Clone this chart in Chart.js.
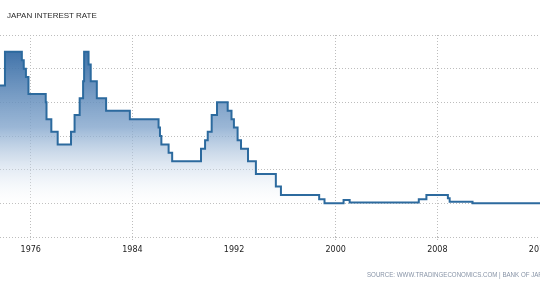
<!DOCTYPE html>
<html>
<head>
<meta charset="utf-8">
<script src="https://cdn.jsdelivr.net/npm/chart.js@4/dist/chart.umd.min.js"></script>
<style>
    html, body { margin: 0; padding: 0; background: #fff; }
    #wrap { position: relative; width: 540px; height: 287px; overflow: hidden; }
    #rate-chart { position: absolute; left: 0; top: 0; }
    .chart-title {
        position: absolute; left: 7px; top: 12px;
        font: 8px/8px "Liberation Sans", Arial, sans-serif;
        color: #2a2a2a; white-space: nowrap;
    }
    .chart-source {
        position: absolute; left: 367px; top: 271px;
        font: 7px/7px "Liberation Sans", Arial, sans-serif;
        color: #8793a6; white-space: nowrap;
        transform: scaleX(0.88); transform-origin: 0 0;
    }
</style>
</head>
<body>
<div id="wrap">
    <canvas id="rate-chart" width="540" height="287"></canvas>
    <div class="chart-title">JAPAN INTEREST RATE</div>
    <div class="chart-source">SOURCE: WWW.TRADINGECONOMICS.COM | BANK OF JAPAN</div>
</div>
<script>
// Даты изменения ставки (доли года) и новое значение ставки, %
const changeYears = [1973.45, 1973.97, 1975.30, 1975.45, 1975.62, 1975.82,
    1977.18, 1977.24, 1977.62, 1978.12, 1979.17, 1979.45, 1979.85, 1980.12,
    1980.20, 1980.55, 1980.72, 1981.20, 1981.93, 1983.80, 1986.06, 1986.17,
    1986.28, 1986.85, 1987.13, 1989.40, 1989.72, 1989.93, 1990.24, 1990.66,
    1991.50, 1991.80, 1991.99, 1992.28, 1992.55, 1993.10, 1993.72, 1995.29,
    1995.69, 1998.70, 1999.12, 2000.62, 2001.10, 2006.54, 2007.14, 2008.83,
    2008.97, 2010.77, 2016.10];
const rates = [7.0, 9.0, 8.5, 8.0, 7.5, 6.5,
    6.0, 5.0, 4.25, 3.5, 4.25, 5.25, 6.25, 7.25,
    9.0, 8.25, 7.25, 6.25, 5.5, 5.0, 4.5, 4.0,
    3.5, 3.0, 2.5, 3.25, 3.75, 4.25, 5.25, 6.0,
    5.5, 5.0, 4.5, 3.75, 3.25, 2.5, 1.75, 1.0,
    0.5, 0.25, 0.0, 0.2, 0.05, 0.25, 0.5, 0.3,
    0.1, 0.0, 0.0];

// Подписи оси X и границы видимого периода
const tickYears = [1976, 1984, 1992, 2000, 2008, 2016];
const hiddenGridYears = [1992, 2016];
const xMin = 1973.58;
const xMax = 2016.08;

const points = changeYears.map((year, i) => ({ x: year, y: rates[i] }));

const gridColor = '#bdbdbd';

function gridFor(c) {
    return (c.tick && hiddenGridYears.includes(c.tick.value)) ? 'rgba(0,0,0,0)' : gridColor;
}

// Градиент заливки под линией
function areaFill(context) {
    const chart = context.chart;
    if (!chart.chartArea) return 'rgba(60, 115, 170, 0.5)';
    const y = chart.scales.y;
    const g = chart.ctx.createLinearGradient(0, y.getPixelForValue(9), 0, y.getPixelForValue(0));
    g.addColorStop(0, 'rgba(55, 108, 165, 0.95)');
    g.addColorStop(0.5, 'rgba(130, 165, 204, 0.8)');
    g.addColorStop(1, 'rgba(255, 255, 255, 0.2)');
    return g;
}

const ctx = document.getElementById('rate-chart').getContext('2d');
window.rateChart = new Chart(ctx, {
    type: 'line',
    data: {
        datasets: [{
            label: 'Japan Interest Rate',
            data: points,
            borderColor: '#2c6a9e',
            borderWidth: 2,
            backgroundColor: areaFill,
            fill: 'origin',
            stepped: true,
            pointRadius: 0,
            borderJoinStyle: 'miter'
        }]
    },
    options: {
        responsive: false,
        animation: false,
        layout: { padding: { top: 35, left: 0, right: 0, bottom: 0 } },
        plugins: {
            legend: { display: false },
            tooltip: { enabled: false }
        },
        scales: {
            x: {
                type: 'linear',
                min: xMin,
                max: xMax,
                afterBuildTicks: axis => {
                    axis.ticks = tickYears.map(v => ({ value: v }));
                },
                afterFit: axis => {
                    axis.paddingLeft = 0;
                    axis.paddingRight = 0;
                    axis.height = 50;
                },
                border: { display: false, dash: [1, 2] },
                grid: {
                    color: gridFor,
                    lineWidth: 1,
                    tickLength: 3,
                    tickColor: gridFor,
                    tickBorderDash: [1, 1],
                    drawTicks: true
                },
                ticks: {
                    autoSkip: false,
                    maxRotation: 0,
                    padding: 5,
                    color: '#222',
                    font: { family: 'DejaVu Sans', size: 8 },
                    callback: value => String(value)
                }
            },
            y: {
                min: -2,
                max: 10,
                afterFit: axis => { axis.width = 0; },
                border: { display: false, dash: [1, 2] },
                grid: {
                    color: gridColor,
                    lineWidth: 1,
                    drawTicks: false
                },
                ticks: { stepSize: 2, display: false }
            }
        }
    }
});
</script>
</body>
</html>
